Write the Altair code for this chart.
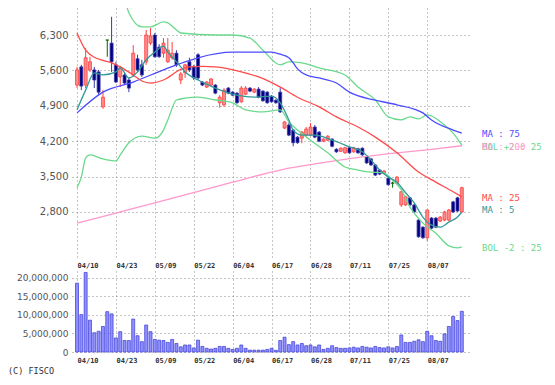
import json
import altair as alt
import pandas as pd

# ---------------- data ----------------
date_ticks = [0, 9, 18, 27, 36, 45, 54, 63, 72, 81]
date_labels = ["04/10", "04/23", "05/09", "05/22", "06/04", "06/17", "06/28", "07/11", "07/25", "08/07"]
price_ticks = [2800, 3500, 4200, 4900, 5600, 6300]
volume_ticks = [0, 5000000, 10000000, 15000000, 20000000]

opens = [5310, 5670, 5310, 5610, 5610, 5570, 4880, 6200, 6140, 5710,
         5470, 5510, 5410, 5510, 5830, 5710, 5770, 6140, 6300, 6060,
         5940, 5770, 5850, 5940, 5410, 5550, 5770, 5670, 5910, 5370,
         5270, 5310, 5310, 4960, 4920, 5250, 5170, 5150, 4980, 5130,
         5250, 5170, 5230, 5190, 5170, 5090, 5010, 5170, 4460, 4520,
         4420, 4280, 4260, 4320, 4320, 4480, 4380, 4200, 4220, 4240,
         4040, 4000, 3970, 4070, 3990, 4050, 4060, 3890, 3850, 3730,
         3630, 3570, 3470, 3370, 3370, 2940, 2940, 3080, 2940, 2640,
         2500, 2290, 2680, 2680, 2620, 2640, 2640, 3000, 3080, 2800]
highs = [5670, 5710, 6040, 5870, 5670, 5610, 5210, 6200, 6660, 5770,
         5690, 5570, 5450, 6100, 5910, 5810, 6400, 6440, 6340, 6120,
         6240, 6240, 6160, 6000, 5570, 5730, 5850, 5710, 5940, 5390,
         5390, 5450, 5330, 5110, 5250, 5270, 5190, 5170, 5290, 5290,
         5270, 5250, 5270, 5210, 5190, 5110, 5030, 5250, 4600, 4560,
         4440, 4300, 4400, 4480, 4560, 4520, 4400, 4260, 4320, 4260,
         4060, 4080, 4090, 4090, 4090, 4070, 4080, 3910, 3870, 3750,
         3650, 3630, 3490, 3400, 3510, 3220, 3120, 3100, 2960, 2660,
         2520, 2840, 2700, 2700, 2720, 2820, 2860, 3020, 3100, 3300]
lows = [5250, 5210, 5250, 5570, 5250, 5110, 4840, 5870, 5570, 5350,
        5270, 5310, 5170, 5470, 5570, 5470, 5710, 6100, 5850, 5850,
        5850, 5750, 5810, 5670, 5330, 5450, 5570, 5410, 5410, 5290,
        5250, 5290, 5130, 4860, 4880, 5130, 5090, 4940, 4960, 5110,
        5170, 5150, 5050, 4980, 4940, 4960, 4940, 4760, 4440, 4300,
        4100, 4150, 4160, 4300, 4300, 4260, 4180, 4180, 4200, 4080,
        3970, 3990, 3950, 3950, 3970, 3950, 3910, 3750, 3710, 3510,
        3530, 3550, 3320, 3280, 3350, 2900, 2920, 2920, 2780, 2290,
        2270, 2230, 2460, 2480, 2600, 2620, 2620, 2780, 2800, 2780]
closes = [5610, 5290, 5850, 5770, 5410, 5170, 5070, 6200, 5770, 5370,
          5650, 5350, 5250, 5940, 5610, 5510, 6300, 6280, 5870, 5870,
          6140, 6000, 5940, 5710, 5530, 5710, 5610, 5450, 5450, 5310,
          5370, 5430, 5150, 5070, 5210, 5150, 5110, 4960, 5250, 5250,
          5190, 5230, 5070, 5000, 4960, 4980, 4960, 4780, 4580, 4320,
          4170, 4170, 4380, 4440, 4480, 4280, 4200, 4240, 4300, 4100,
          3990, 4060, 4070, 3970, 4070, 3970, 3930, 3770, 3730, 3530,
          3550, 3610, 3340, 3370, 3490, 3200, 3100, 2940, 2800, 2310,
          2290, 2840, 2480, 2500, 2700, 2800, 2840, 2800, 2820, 3280]
volumes_millions = [18.6, 10.1, 21.5, 8.6, 5.2, 5.6, 6.9, 10.9, 10.3, 3.8,
                    5.5, 3.1, 3.1, 8.9, 4.4, 2.8, 7.3, 5.5, 3.4, 3.2,
                    3.1, 2.6, 3.4, 2.3, 1.4, 1.9, 1.9, 1.1, 3.2, 1.5,
                    1.0, 0.8, 1.0, 1.5, 1.5, 1.0, 0.7, 1.0, 1.9, 1.0,
                    0.5, 0.5, 0.5, 0.5, 0.7, 1.0, 0.45, 3.1, 4.0, 2.0,
                    2.8, 1.9, 2.3, 1.7, 1.9, 1.4, 1.9, 0.7, 1.0, 1.7,
                    1.2, 1.0, 1.0, 1.1, 1.3, 1.1, 1.5, 1.3, 1.1, 1.5,
                    1.2, 1.1, 1.4, 1.1, 1.5, 4.6, 2.6, 2.6, 2.9, 3.3,
                    2.8, 5.6, 4.4, 3.1, 2.9, 4.9, 6.9, 9.6, 8.5, 11.0]

ma5_idx = [0, 2, 4, 6, 9, 10, 12, 14, 16, 18, 20, 21, 23, 25, 28, 32, 37, 41, 45, 47,
           49, 50, 52, 55, 59, 63, 66, 68, 70, 72, 74, 76, 78, 80, 82, 84, 86, 88, 89]
ma5_val = [4820, 5210, 5550, 5510, 5570, 5650, 5450, 5570, 5810, 5960, 6080, 5960, 5770, 5570,
           5410, 5250, 5110, 5070, 5090, 4960, 4620, 4420, 4320, 4320, 4220, 4090, 3990, 3830,
           3630, 3490, 3390, 3180, 2980, 2700, 2540, 2500, 2600, 2700, 2800]
ma25_idx = [0, 2, 4, 6, 8, 10, 13, 15, 17, 20, 24, 26, 29, 32, 38, 42, 47, 51, 56, 60,
            65, 69, 74, 79, 83, 87, 89]
ma25_val = [6340, 6000, 5860, 5800, 5750, 5670, 5510, 5390, 5350, 5410, 5620, 5670, 5680,
            5670, 5570, 5470, 5270, 5070, 4880, 4680, 4480, 4280, 3970, 3590, 3390, 3200, 3100]
ma75_idx = [0, 6, 13, 20, 25, 28, 36, 45, 47, 49, 50, 51, 53, 56, 60, 63, 69, 74, 80, 82, 87, 89]
ma75_val = [4760, 5170, 5370, 5610, 5770, 5850, 5960, 5960, 5920, 5850, 5750, 5630, 5510,
            5450, 5350, 5170, 5010, 4920, 4760, 4620, 4420, 4360]
ma200_idx = [0, 9, 18, 25, 36, 47, 58, 66, 74, 81, 89]
ma200_val = [2580, 2780, 2980, 3140, 3390, 3630, 3790, 3890, 3970, 4030, 4110]
bolu_idx = [9, 11, 12, 15, 17, 20, 21, 23, 24, 32, 36, 40, 43, 47, 49, 52, 56, 62, 65, 69,
            72, 75, 77, 79, 81, 85, 87, 89]
bolu_val = [7200, 6990, 6740, 6460, 6460, 6560, 6540, 6400, 6340, 6300, 6300, 6240, 6000,
            5710, 5770, 5750, 5650, 5510, 5270, 5015, 4680, 4620, 4680, 4640, 4720, 4520,
            4360, 4120]
boll_idx = [0, 1, 2, 3, 6, 9, 10, 12, 15, 18, 20, 21, 23, 25, 28, 32, 36, 39, 43, 47,
            49, 51, 54, 58, 62, 65, 68, 71, 73, 75, 77, 80, 83, 86, 88, 89]
boll_val = [3280, 3490, 3870, 3930, 3850, 3810, 3930, 4170, 4300, 4260, 4420, 4620, 5015,
            5050, 5070, 5015, 4960, 4820, 4780, 4820, 4580, 4420, 4220, 3970, 3690, 3630,
            3590, 3570, 3430, 3240, 2900, 2580, 2380, 2130, 2090, 2110]

legend_texts = ["MA : 75", "BOL +2 : 25", "MA : 200", "MA : 25", "MA : 5", "BOL -2 : 25"]
legend_levels = [4340, 4086, 4086, 3077, 2840, 2090]
credit = ["(C) FISCO"]

# ---------------- styling ----------------
W, H1, H2 = 400, 249, 81
C_MA5, C_MA25, C_MA75 = "#339999", "#ff4a4a", "#4b4bff"
C_BOL, C_PINK = "#6ad98c", "#ff99cc"
legend_colors = [C_MA75, C_BOL, C_PINK, C_MA25, C_MA5, C_BOL]
GRID = "#8a8a8a"

N = len(opens)
candles = pd.DataFrame({"i": list(range(N)), "open": opens, "high": highs,
                        "low": lows, "close": closes})
candles["dir"] = ["up" if c > o else ("down" if c < o else "flat")
                  for o, c in zip(opens, closes)]
vol_df = pd.DataFrame({"i": list(range(N)), "volume": [v * 1e6 for v in volumes_millions]})
legend_df = pd.DataFrame({"t": legend_texts, "v": legend_levels, "c": legend_colors})
credit_df = pd.DataFrame({"t": credit})

label_expr = json.dumps(date_labels) + "[round(datum.value / 9)]"
x_scale = alt.Scale(domain=[0, 90.2], nice=False, zero=False)
x_axis = alt.Axis(values=date_ticks, labelExpr=label_expr, grid=True, gridDash=[1, 3],
                  gridColor=GRID, gridOpacity=1, ticks=False, domain=False,
                  labelAlign="left", labelFont="DejaVu Sans Mono", labelFontSize=7,
                  labelFontWeight="bold", labelColor="#333", labelPadding=4,
                  labelFlush=False, labelOverlap=False, title=None)

py_scale = alt.Scale(domain=[1910, 6834], nice=False, zero=False)
py_axis = alt.Axis(values=price_ticks, format=",d", grid=True, gridDash=[1, 3],
                   gridColor=GRID, gridOpacity=1, ticks=False, domain=False,
                   labelFont="DejaVu Sans", labelFontSize=10, labelColor="#555",
                   labelPadding=4, title=None)

X = alt.X("i:Q", scale=x_scale, axis=x_axis)
dir_dom = ["up", "down", "flat"]

wicks = alt.Chart(candles).mark_rule(strokeWidth=1).encode(
    x=X,
    y=alt.Y("low:Q", scale=py_scale, axis=py_axis),
    y2="high:Q",
    stroke=alt.Stroke("dir:N", scale=alt.Scale(domain=dir_dom,
                                               range=["#ff4040", "#3b3ba8", "#006400"]),
                      legend=None),
)
bodies = alt.Chart(candles).mark_bar(size=3, strokeWidth=0.8).encode(
    x=X,
    y=alt.Y("open:Q", scale=py_scale, axis=py_axis),
    y2="close:Q",
    fill=alt.Fill("dir:N", scale=alt.Scale(domain=dir_dom,
                                           range=["#ff8a8a", "#000080", "#006400"]),
                  legend=None),
    stroke=alt.Stroke("dir:N", scale=alt.Scale(domain=dir_dom,
                                               range=["#ff3030", "#000080", "#006400"]),
                      legend=None),
)


def ma_line(xs, ys, color):
    df = pd.DataFrame({"i": xs, "v": ys})
    return alt.Chart(df).mark_line(strokeWidth=1.3, clip=True, interpolate="monotone",
                                   color=color).encode(
        x=X, y=alt.Y("v:Q", scale=py_scale, axis=py_axis), order="i:Q")


lines = [
    ma_line(ma200_idx, ma200_val, C_PINK),
    ma_line(bolu_idx, bolu_val, C_BOL),
    ma_line(boll_idx, boll_val, C_BOL),
    ma_line(ma75_idx, ma75_val, C_MA75),
    ma_line(ma25_idx, ma25_val, C_MA25),
    ma_line(ma5_idx, ma5_val, C_MA5),
]
legend_layer = alt.Chart(legend_df).mark_text(
    align="left", baseline="middle", font="DejaVu Sans Mono", fontSize=9
).encode(
    x=alt.value(W + 10),
    y=alt.Y("v:Q", scale=py_scale, axis=py_axis),
    text="t:N",
    color=alt.Color("c:N", scale=None),
)
price = alt.layer(wicks, bodies, *lines, legend_layer).properties(width=W, height=H1)

vy_scale = alt.Scale(domain=[0, 21890000], nice=False, zero=True)
vy_axis = alt.Axis(values=volume_ticks, format=",d", grid=True, gridDash=[1, 3],
                   gridColor=GRID, gridOpacity=1, ticks=False, domain=False,
                   labelFont="DejaVu Sans", labelFontSize=9, labelColor="#555",
                   labelPadding=4, title=None)
vbars = alt.Chart(vol_df).mark_bar(size=3, fill="#8f8fff", stroke="#3a3ad6",
                                   strokeWidth=0.7).encode(
    x=X,
    y=alt.Y("volume:Q", scale=vy_scale, axis=vy_axis),
    y2=alt.datum(0),
)
credit_layer = alt.Chart(credit_df).mark_text(
    align="left", baseline="middle", font="DejaVu Sans Mono", fontSize=8.5, color="#333"
).encode(x=alt.value(-64), y=alt.value(H2 + 19), text="t:N")
volume = alt.layer(vbars, credit_layer).properties(width=W, height=H2)

chart = alt.vconcat(price, volume, spacing=3, padding=0).configure_view(stroke=None)
chart.save("out.html", embed_options={"renderer": "svg", "actions": False})
